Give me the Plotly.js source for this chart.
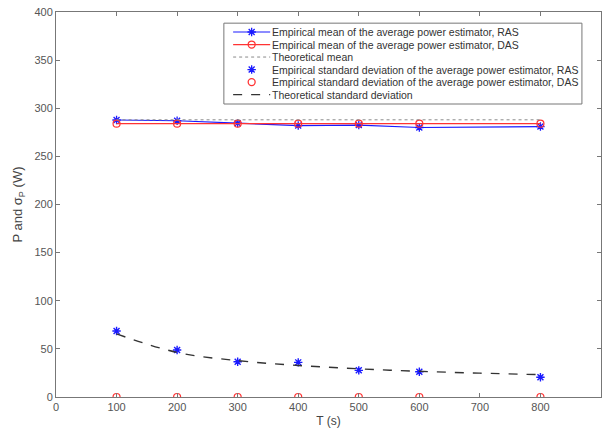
<!DOCTYPE html>
<html>
<head>
<meta charset="utf-8">
<script src="https://cdn.plot.ly/plotly-3.0.1.min.js"></script>
<style>html,body{margin:0;padding:0;background:#fff;}#chart{width:604px;height:432px;}</style>
</head>
<body>
<div id="chart"></div>
<script>
// Observation windows T (s)
const T = [100, 200, 300, 400, 500, 600, 800];
const T_theory = [100, 200, 300, 400, 500, 600, 700, 800];

// Empirical means of the average power estimator (W)
const meanRAS = [287.8, 287, 284.5, 282, 282.5, 280, 281];
const meanDAS = [284, 284, 284, 284, 284, 284, 284];
const theoMean = [288, 288, 288, 288, 288, 288, 288, 288];

// Empirical / theoretical standard deviations (W)
const stdRAS = [68.6, 48.8, 36.7, 36, 27.7, 26.3, 20.5];
const stdDAS = [0, 0, 0, 0, 0, 0, 0];
const theoStd = [65.5, 46.3, 37.8, 32.8, 29.3, 26.7, 24.8, 23.2];

// Legend entries (compact, boxed, MATLAB style)
const legendLabels = [
  'Empirical mean of the average power estimator, RAS',
  'Empirical mean of the average power estimator, DAS',
  'Theoretical mean',
  'Empirical standard deviation of the average power estimator, RAS',
  'Empirical standard deviation of the average power estimator, DAS',
  'Theoretical standard deviation'
];

const BLUE = '#1a1aff', RED = '#ff3333', GREY = '#8a8a8a', DARK = '#333333';
const FONT = 'Liberation Sans, Arial, sans-serif';

// Style per legend entry: line (null = none), marker (null = none)
const legendStyles = [
  {line: {color: BLUE, width: 1.2, dash: 'solid'}, marker: {symbol: 'asterisk-open', color: BLUE}},
  {line: {color: RED, width: 1.2, dash: 'solid'}, marker: {symbol: 'circle-open', color: RED}},
  {line: {color: GREY, width: 1, dash: 'dot'}, marker: null},
  {line: null, marker: {symbol: 'asterisk-open', color: BLUE}},
  {line: null, marker: {symbol: 'circle-open', color: RED}},
  {line: {color: DARK, width: 1.4, dash: 'dash'}, marker: null}
];

const traces = [
  {x: T, y: meanRAS, mode: 'lines+markers',
   line: {color: BLUE, width: 1.2}, marker: {symbol: 'asterisk-open', size: 7, color: BLUE, line: {color: BLUE, width: 1.3}}},
  {x: T, y: meanDAS, mode: 'lines+markers',
   line: {color: RED, width: 1.2}, marker: {symbol: 'circle-open', size: 7, color: RED, line: {color: RED, width: 1.2}}},
  {x: T_theory, y: theoMean, mode: 'lines',
   line: {color: GREY, width: 1, dash: 'dot'}},
  {x: T, y: stdRAS, mode: 'markers',
   marker: {symbol: 'asterisk-open', size: 7, color: BLUE, line: {color: BLUE, width: 1.4}}},
  {x: T, y: stdDAS, mode: 'markers',
   marker: {symbol: 'circle-open', size: 7, color: RED, line: {color: RED, width: 1.2}}},
  {x: T_theory, y: theoStd, mode: 'lines', line: {shape: 'spline', color: DARK, width: 1.4, dash: 'dash'}}
];

// Legend box geometry in plot-area fractions
const box = {x0: 0.308, x1: 0.965, y0: 0.761, y1: 0.971};
const rowTop = 0.948, rowStep = 0.0325;
const sampleX0 = 0.325, sampleX1 = 0.393, textX = 0.393;

const shapes = [{type: 'rect', xref: 'paper', yref: 'paper', x0: box.x0, x1: box.x1, y0: box.y0, y1: box.y1,
  line: {color: '#777', width: 1}, fillcolor: '#fff', layer: 'below'}];
const annotations = [];

legendLabels.forEach((label, i) => {
  const yy = rowTop - i * rowStep;
  const st = legendStyles[i];
  if (st.line) {
    shapes.push({type: 'line', xref: 'paper', yref: 'paper', x0: sampleX0, x1: sampleX1, y0: yy, y1: yy,
      line: st.line, layer: 'below'});
  }
  if (st.marker) {
    traces.push({x: [(sampleX0 + sampleX1) / 2], y: [yy], xaxis: 'x2', yaxis: 'y2', mode: 'markers',
      marker: {symbol: st.marker.symbol, size: 7, color: st.marker.color, line: {color: st.marker.color, width: 1.3}},
      hoverinfo: 'skip'});
  }
  annotations.push({xref: 'paper', yref: 'paper', x: textX, y: yy, xanchor: 'left', yanchor: 'middle',
    text: label, showarrow: false, font: {family: FONT, size: 10.5, color: '#333'}});
});

const axisCommon = {
  showline: true, linecolor: '#777', linewidth: 1, mirror: 'ticks',
  ticks: 'inside', ticklen: 4, tickcolor: '#777', showgrid: false, zeroline: false,
  tickfont: {family: FONT, size: 11, color: '#555'}
};

const layout = {
  width: 604, height: 432,
  margin: {l: 56, r: 3, t: 12, b: 35},
  paper_bgcolor: '#fff', plot_bgcolor: '#fff',
  showlegend: false,
  xaxis: Object.assign({}, axisCommon, {range: [0, 900], dtick: 100,
    title: {text: 'T (s)', standoff: 4, font: {family: FONT, size: 12, color: '#444'}}}),
  yaxis: Object.assign({}, axisCommon, {range: [0, 400], dtick: 50,
    title: {text: 'P and σ<sub>P</sub> (W)', standoff: 8, font: {family: FONT, size: 13, color: '#444'}}}),
  // overlay axes spanning the plot area in fractional units, used for legend symbols
  xaxis2: {overlaying: 'x', range: [0, 1], visible: false, fixedrange: true},
  yaxis2: {overlaying: 'y', range: [0, 1], visible: false, fixedrange: true},
  shapes: shapes,
  annotations: annotations
};

Plotly.newPlot('chart', traces, layout, {displayModeBar: false, staticPlot: true});
</script>
</body>
</html>
